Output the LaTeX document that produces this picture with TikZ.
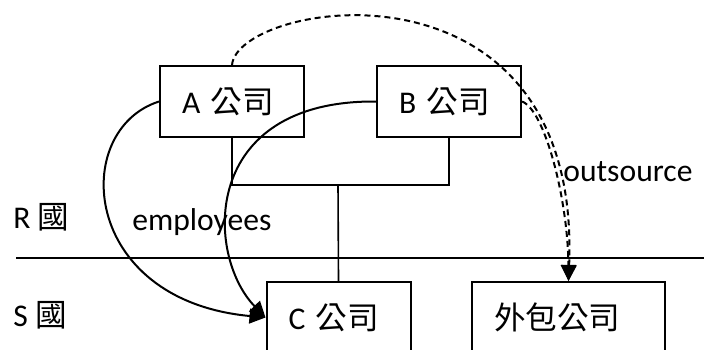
\documentclass[tikz,border=0pt]{standalone}
\usepackage{fontspec}
\setmainfont{Carlito}
\newfontfamily\cjk{Noto Sans CJK TC}
\usetikzlibrary{arrows.meta}
\tikzset{
  firm/.style= {draw, line width=1pt, minimum height=35.5pt, text width=50pt, inner xsep=11pt, align=left},
  wide/.style= {text width=74.5pt},
  note/.style= {inner sep=0, anchor=base west},
  flow/.style= {line width=1pt, -{Triangle[length=8pt, width=7.5pt]}},
  owns/.style= {line width=0.8pt},
}

\begin{document}
\begin{tikzpicture}[x=0.5pt, y=-0.5pt, every node/.style={font=\fontsize{15.8}{19}\selectfont}]
  \clip (0,0) rectangle (704,349) ;
  \node [firm] (a) at (232,101.5) {A {\cjk 公司}} ;
  \node [firm] (b) at (449,101.5) {B {\cjk 公司}} ;
  \node [firm] (c) at (338.5,317.5) {C {\cjk 公司}} ;
  \node [firm, wide] (sub) at (568.5,317.5) {{\cjk 外包公司}} ;
  \node [note] (r) at (13,228) {R {\cjk 國}} ;
  \node [note] (s) at (13,326) {S {\cjk 國}} ;
  \node [note] (emp) at (132,230) {employees} ;
  \node [note] (outs) at (563,181) {outsource} ;
  \coordinate (join) at (338,185) ;
  \coordinate (borderL) at (16,258) ;
  \coordinate (borderR) at (704,258) ;

  % border between the two countries
  \draw [line width=1.2pt] (borderL) -- (borderR) ;
  % ownership
  \draw [owns] (a.south) |- (join) -| (b.south) ;
  \draw [owns] (join) -- (c.north) ;
  % employees
  \draw [flow] (a.west) .. controls (70,130) and (80,300) .. (c.west) ;
  \draw [flow] (b.west) .. controls (200,100) and (205,255) .. (c.west) ;
  % outsource
  \draw [flow, dash pattern=on 3pt off 2pt] (a.north) .. controls (238,0) and (582,-55) .. (sub.north) ;
  \draw [flow, dash pattern=on 3pt off 2pt] (b.east) .. controls (545,110) and (568,200) .. (sub.north) ;
\end{tikzpicture}
\end{document}
